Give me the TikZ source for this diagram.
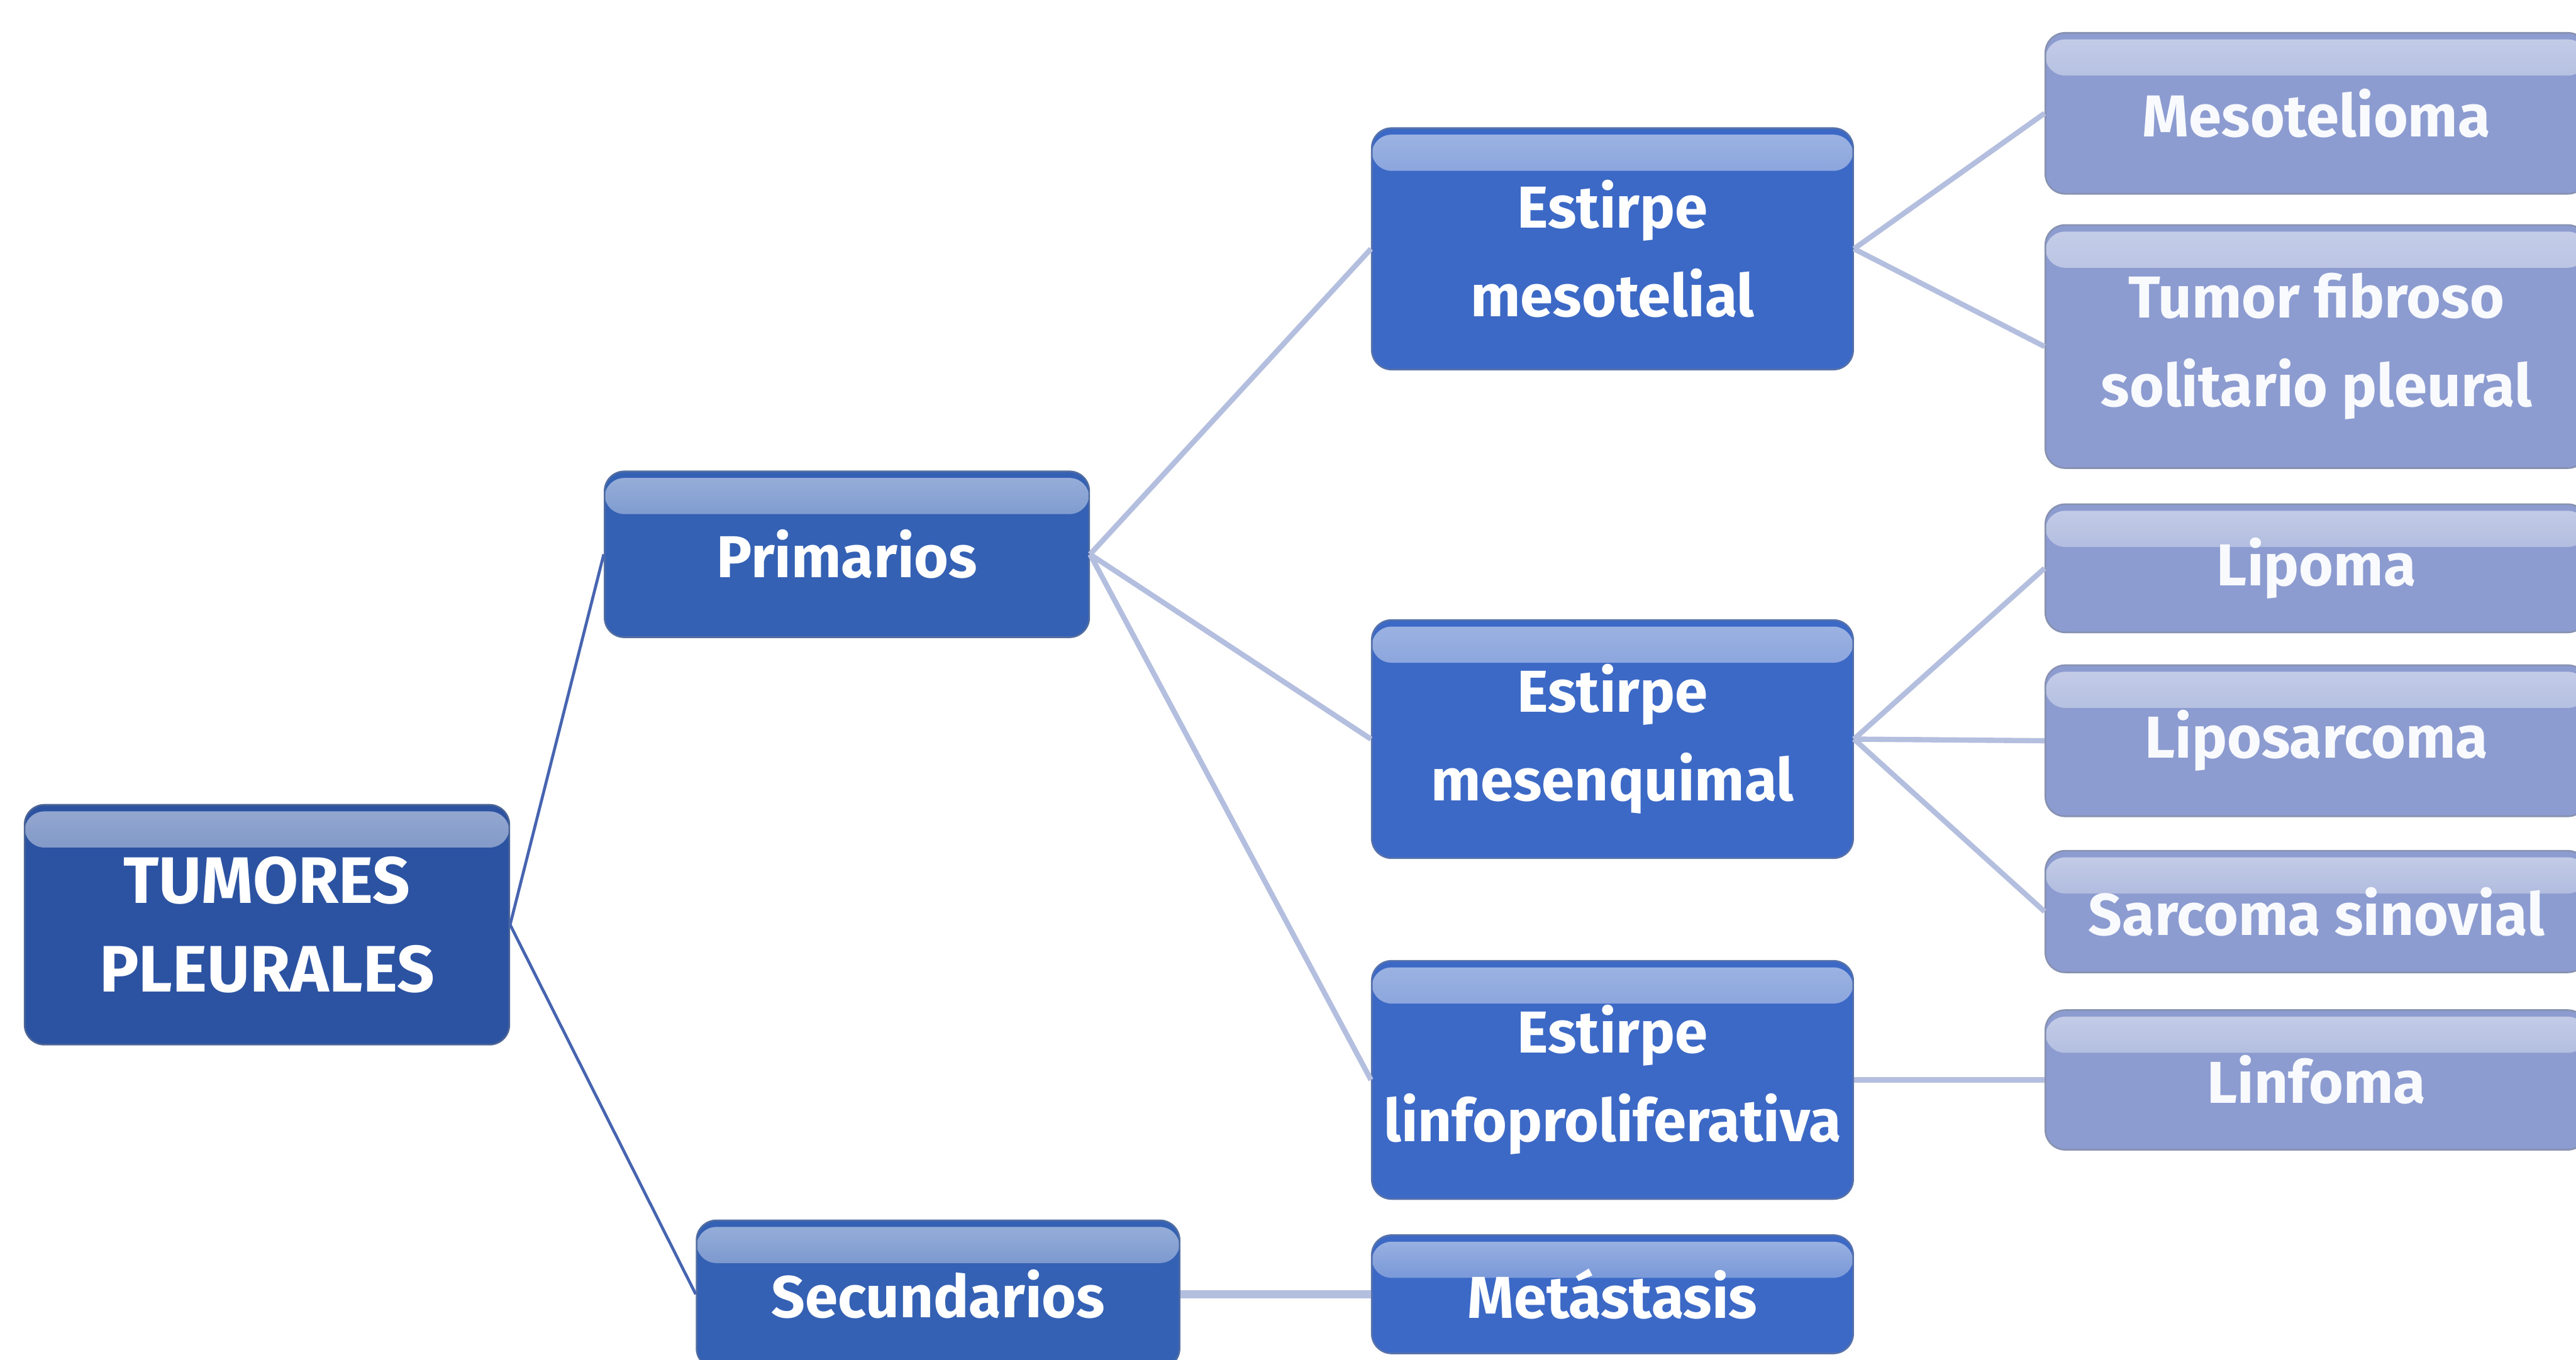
\documentclass[tikz,border=0pt]{standalone}
\usepackage{fontspec}
\setmainfont{Fira Sans}
\definecolor{cRoot}{HTML}{2C53A2}
\definecolor{cOne}{HTML}{3461B4}
\definecolor{cTwo}{HTML}{3C69C6}
\definecolor{cLeaf}{HTML}{8C9CD0}
\definecolor{lnDark}{HTML}{4664B0}
\definecolor{lnLight}{HTML}{B4BEDE}
\tikzset{
  box/.style={rectangle, rounded corners=6pt, fill=#1, draw=#1!75!black!80!white, line width=0.5pt,
    text=white, align=center, inner sep=0pt,
    font=\bfseries\fontsize{18}{27}\selectfont,
    path picture={
      \shade[top color=#1!50!white, bottom color=#1]
        ([yshift=-2pt]path picture bounding box.north west) rectangle
        ([yshift=-13pt]path picture bounding box.north east);
    }},
  rootbox/.style={box=cRoot, font=\bfseries\fontsize{20}{27}\selectfont},
  onebox/.style={box=cOne},
  twobox/.style={box=cTwo},
  leafbox/.style={box=cLeaf, text=white!95!cLeaf},
  darkline/.style={draw=lnDark, line width=0.9pt},
  lightline/.style={draw=lnLight, line width=1.6pt},
}
\begin{document}
\begin{tikzpicture}[x=0.5pt,y=-0.5pt]
\useasboundingbox (0,0) rectangle (1568,828);
\clip (0,0) rectangle (1568,828);
% nodes
\node[rootbox, minimum width=147.5pt, minimum height=73pt] (root) at (162.5,563) {TUMORES\\PLEURALES};
\node[onebox, minimum width=147.5pt, minimum height=50.5pt] (prim) at (515.5,337.5) {Primarios};
\node[onebox, minimum width=147pt, minimum height=45pt] (sec) at (571,788) {Secundarios};
\node[twobox, minimum width=146.5pt, minimum height=73.5pt] (meso) at (981.5,151.5) {Estirpe\\mesotelial};
\node[twobox, minimum width=146.5pt, minimum height=72.5pt] (mesen) at (981.5,450) {Estirpe\\mesenquimal};
\node[twobox, minimum width=146.5pt, minimum height=72.5pt] (linfo) at (981.5,657.5) {Estirpe\\linfoproliferativa};
\node[twobox, minimum width=146.5pt, minimum height=36pt] (meta) at (981.5,788) {Metástasis};
\node[leafbox, minimum width=165pt, minimum height=49pt] (l1) at (1410,69) {Mesotelioma};
\node[leafbox, minimum width=165pt, minimum height=74pt] (l2) at (1410,211) {Tumor fibroso\\solitario pleural};
\node[leafbox, minimum width=165pt, minimum height=39pt] (l3) at (1410,346) {Lipoma};
\node[leafbox, minimum width=165pt, minimum height=46pt] (l4) at (1410,451) {Liposarcoma};
\node[leafbox, minimum width=165pt, minimum height=37pt] (l5) at (1410,555) {Sarcoma sinovial};
\node[leafbox, minimum width=165pt, minimum height=42.5pt] (l6) at (1410,657.5) {Linfoma};
% connectors
\draw[darkline] (root.east) -- (prim.west);
\draw[darkline] (root.east) -- (sec.west);
\draw[lightline] (prim.east) -- (meso.west);
\draw[lightline] (prim.east) -- (mesen.west);
\draw[lightline] (prim.east) -- (linfo.west);
\draw[lightline] (meso.east) -- (l1.west);
\draw[lightline] (meso.east) -- (l2.west);
\draw[lightline] (mesen.east) -- (l3.west);
\draw[lightline] (mesen.east) -- (l4.west);
\draw[lightline] (mesen.east) -- (l5.west);
\draw[lightline] (linfo.east) -- (l6.west);
\draw[lightline, line width=2.5pt] (sec.east) -- (meta.west);
\end{tikzpicture}
\end{document}
